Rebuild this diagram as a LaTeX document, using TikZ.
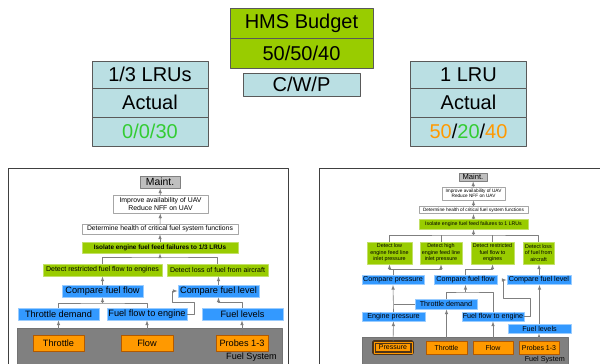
\documentclass[tikz,border=0pt]{standalone}
\usepackage{fontspec}
\setmainfont{Liberation Sans}
\definecolor{budgetgreen}{HTML}{99CC00}
\definecolor{paleblue}{HTML}{BADFE3}
\definecolor{numgreen}{HTML}{33CC33}
\definecolor{numorange}{HTML}{FF9900}
\definecolor{funcblue}{HTML}{3399FF}
\definecolor{sensorange}{HTML}{FF9900}
\definecolor{sysgray}{HTML}{808080}
\definecolor{maintgray}{HTML}{BFBFBF}
\definecolor{wiregray}{HTML}{7F7F7F}
\usetikzlibrary{positioning}
\begin{document}
\begin{tikzpicture}[x=1pt,y=-1pt,>=latex,line join=round,
	box/.style={draw,inner sep=0pt,align=center},
	topbox/.style={box,draw=black!65,fill=paleblue,minimum width=116,font=\fontsize{20}{22}\selectfont},
	budget/.style={topbox,fill=budgetgreen,minimum width=143,minimum height=30},
	maintbox/.style={box,draw=gray,fill=maintgray},
	goalbox/.style={box,draw=black!35,fill=white},
	isobox/.style={box,draw=budgetgreen!60,fill=budgetgreen},
	funcbox/.style={box,draw=funcblue!50,fill=funcblue},
	sensbox/.style={box,draw=orange!70!black,fill=sensorange},
	sysbox/.style={draw=black!55,fill=sysgray,inner sep=0pt},
	frame/.style={draw=black!75,line width=0.8pt},
	wire/.style={draw=wiregray,line width=0.6pt},
	conn/.style={wire,->,shorten >=0.3pt}]
\useasboundingbox (0,0) rectangle (600,364);
\clip (0,0) rectangle (600,364);
\fill[white] (0,0) rectangle (600,364);
% budget boxes
\node[budget] (hms) at (301.5,23) {HMS Budget};
\node[budget] (hmsval) at (301.5,53) {50/50/40};
\node[topbox,minimum width=117,minimum height=23] (cwp) at (301.5,84.5) {C/W/P};
\node[topbox,minimum height=27] (thirdhead) at (150,74.5) {1/3 LRUs};
\node[topbox,minimum height=29] (thirdact) at (150,102.5) {Actual};
\node[topbox,minimum height=29] (thirdval) at (150,131.5) {\color{numgreen}0/0/30};
\node[topbox,minimum height=27] (onehead) at (468.5,74.5) {1 LRU};
\node[topbox,minimum height=29] (oneact) at (468.5,102.5) {Actual};
\node[topbox,minimum height=29] (oneval) at (468.5,131.5) {\textcolor{numorange}{50}/\textcolor{numgreen}{20}/\textcolor{numorange}{40}};
% left panel: 1/3 LRUs
\draw[frame] (8,168) rectangle (288,380);
\node[sysbox,minimum width=265,minimum height=42] (lsys) at (149.5,349) {};
\node[anchor=south east,inner sep=0pt,font=\fontsize{9.1}{10}\selectfont] (lsyslab) at (277,362) {Fuel System};
\node[maintbox,minimum width=40,minimum height=12,font=\fontsize{10.4}{11}\selectfont] (lmaint) at (160,182) {Maint.};
\node[goalbox,minimum width=95,minimum height=18,font=\fontsize{6.9}{8}\selectfont] (limp) at (160.5,204) {Improve availability of UAV\\Reduce NFF on UAV};
\node[goalbox,minimum width=156,minimum height=10,font=\fontsize{6.8}{8}\selectfont] (ldet) at (160,229) {Determine health of critical fuel system functions};
\node[isobox,minimum width=156,minimum height=11,font=\bfseries\fontsize{6.4}{8}\selectfont] (liso) at (160,247.5) {Isolate engine fuel feed failures to 1/3 LRUs};
\node[isobox,minimum width=119,minimum height=12,font=\fontsize{7}{8}\selectfont] (ldr) at (102.5,270) {Detect restricted fuel flow to engines};
\node[isobox,minimum width=101,minimum height=12,font=\fontsize{7}{8}\selectfont] (ldl) at (217.5,270) {Detect loss of fuel from aircraft};
\node[funcbox,minimum width=81,minimum height=12,font=\fontsize{9.2}{10}\selectfont] (lcff) at (102.5,291) {Compare fuel flow};
\node[funcbox,minimum width=81,minimum height=12,font=\fontsize{9.2}{10}\selectfont] (lcfl) at (218.5,291) {Compare fuel level};
\node[funcbox,minimum width=81,minimum height=12,font=\fontsize{9.2}{10}\selectfont] (ltd) at (58.5,314) {Throttle demand};
\node[funcbox,minimum width=80,minimum height=12,font=\fontsize{9.2}{10}\selectfont] (lffe) at (147,314) {Fuel flow to engine};
\node[funcbox,minimum width=81,minimum height=12,font=\fontsize{9.2}{10}\selectfont] (lfl) at (242.5,314) {Fuel levels};
\node[sensbox,minimum width=51,minimum height=16,font=\fontsize{9.2}{10}\selectfont] (lthr) at (58.5,343) {Throttle};
\node[sensbox,minimum width=52,minimum height=16,font=\fontsize{9.2}{10}\selectfont] (lflow) at (147,343) {Flow};
\node[sensbox,minimum width=52,minimum height=16,font=\fontsize{9.2}{10}\selectfont] (lprb) at (242,343) {Probes 1-3};
\coordinate (lj1) at (160,257);
\coordinate (lj2) at (102.5,303);
\draw[conn] (limp) -- (lmaint);
\draw[conn] (ldet) -- (limp);
\draw[conn] (liso) -- (ldet);
\draw[wire] (ldr.north) |- (lj1) -| (ldl.north);
\draw[conn] (lj1) -- (liso.south);
\draw[conn] (lcff) -- (ldr);
\draw[conn] (lcfl.north) -- (lcfl.north |- ldl.south);
\draw[wire] (ltd.north) |- (lj2) -| (lffe.north);
\draw[conn] (lj2) -- (lcff.south);
\draw[conn] (lffe.east) -| (194,302) -| (172,291) -- (lcfl.west);
\draw[conn] (lfl.north) -- ++(0,-6) -| (lcfl.south);
\draw[conn] (lthr) -- (ltd);
\draw[conn] (lflow) -- (lffe);
\draw[conn] (lprb.north) -- (lprb.north |- lfl.south);
% right panel: 1 LRU
\draw[frame] (319,168) rectangle (610,380);
\node[sysbox,minimum width=206,minimum height=46] (rsys) at (465,360) {};
\node[anchor=south east,inner sep=0pt,font=\fontsize{7.2}{8}\selectfont] (rsyslab) at (565,363) {Fuel System};
\node[maintbox,minimum width=28,minimum height=8,font=\fontsize{7.6}{8}\selectfont] (rmaint) at (473,177) {Maint.};
\node[goalbox,minimum width=63,minimum height=13,font=\fontsize{4.7}{5.6}\selectfont] (rimp) at (473.5,193.5) {Improve availability of UAV\\Reduce NFF on UAV};
\node[goalbox,minimum width=109,minimum height=7,font=\fontsize{4.7}{5.6}\selectfont] (rdet) at (473.5,210) {Determine health of critical fuel system functions};
\node[isobox,minimum width=109,minimum height=10,font=\fontsize{5.2}{6}\selectfont] (riso) at (473.5,224) {Isolate engine fuel feed failures to 1 LRUs};
\node[isobox,minimum width=45,minimum height=22,font=\fontsize{5.4}{6.6}\selectfont] (rd1) at (389.5,253) {Detect low\\engine feed line\\inlet pressure};
\node[isobox,minimum width=42,minimum height=22,font=\fontsize{5.4}{6.6}\selectfont] (rd2) at (441,253) {Detect high\\engine feed line\\inlet pressure};
\node[isobox,minimum width=43,minimum height=22,font=\fontsize{5.4}{6.6}\selectfont] (rd3) at (492.5,253) {Detect restricted\\fuel flow to\\engines};
\node[isobox,minimum width=31,minimum height=22,font=\fontsize{5.4}{6.6}\selectfont] (rd4) at (538.5,253) {Detect loss\\of fuel from\\aircraft};
\node[funcbox,minimum width=62,minimum height=9,font=\fontsize{7.2}{8}\selectfont] (rcp) at (393,280) {Compare pressure};
\node[funcbox,minimum width=63,minimum height=9,font=\fontsize{7.2}{8}\selectfont] (rcff) at (465.5,280) {Compare fuel flow};
\node[funcbox,minimum width=64,minimum height=9,font=\fontsize{7.2}{8}\selectfont] (rclv) at (539,280) {Compare fuel level};
\node[funcbox,minimum width=62,minimum height=10,font=\fontsize{7.2}{8}\selectfont] (rtd) at (446,304) {Throttle demand};
\node[funcbox,minimum width=63,minimum height=9,font=\fontsize{7.2}{8}\selectfont] (rep) at (393.5,316.5) {Engine pressure};
\node[funcbox,minimum width=62,minimum height=9,font=\fontsize{7.2}{8}\selectfont] (rffe) at (493,316.5) {Fuel flow to engine};
\node[funcbox,minimum width=63,minimum height=9,font=\fontsize{7.2}{8}\selectfont] (rfl) at (539.5,328.5) {Fuel levels};
\node[box,draw=brown!40!black,double=sensorange,double distance=1pt,line width=1.2pt,fill=sensorange,minimum width=38,minimum height=11,font=\fontsize{7}{8}\selectfont] (rpre) at (393,347.5) {Pressure};
\node[sensbox,minimum width=41,minimum height=13,font=\fontsize{7}{8}\selectfont] (rthr) at (446.5,347.5) {Throttle};
\node[sensbox,minimum width=40,minimum height=13,font=\fontsize{7}{8}\selectfont] (rflow) at (493,347.5) {Flow};
\node[sensbox,minimum width=40,minimum height=13,font=\fontsize{7}{8}\selectfont] (rprb) at (539,347.5) {Probes 1-3};
\coordinate (rj1) at (473.5,235);
\coordinate (rj2) at (393,269);
\coordinate (rj3) at (465.5,292);
\draw[conn] (rimp) -- (rmaint);
\draw[conn] (rdet) -- (rimp);
\draw[conn] (riso) -- (rdet);
\draw[wire] (rd1.north) |- (rj1) -| (rd4.north);
\draw[wire] (rd2.north) -- (rd2.north |- rj1);
\draw[wire] (rd3.north) -- (rd3.north |- rj1);
\draw[conn] (rj1) -- (riso.south);
\draw[wire] (rcp.north) -- (rj2);
\draw[conn] (rj2) -| (rd1.south);
\draw[conn] (rj2) -| (rd2.south);
\draw[conn] (rcff.north) -- ++(0,-6.5) -| (rd3.south);
\draw[conn] (rclv.north) -- (rclv.north |- rd4.south);
\draw[wire] (rtd.north) |- (rj3) -| (rffe.north);
\draw[conn] (rj3) -- (rcff.south);
\draw[wire] (rtd.west) -- (rtd.west -| rep.north);
\draw[conn] (rep.north) -- (rcp.south);
\draw[conn] (rffe.east) -| (530,298) -| (503,280) -- (rclv.west);
\draw[conn] (rfl.north) -- (rfl.north |- rclv.south);
\draw[conn] (rpre) -- (rep);
\draw[conn] (rthr.north) -- (rthr.north |- rtd.south);
\draw[conn] (rflow) -- (rffe);
\draw[conn] (rprb.north) -- (rprb.north |- rfl.south);
\end{tikzpicture}
\end{document}
